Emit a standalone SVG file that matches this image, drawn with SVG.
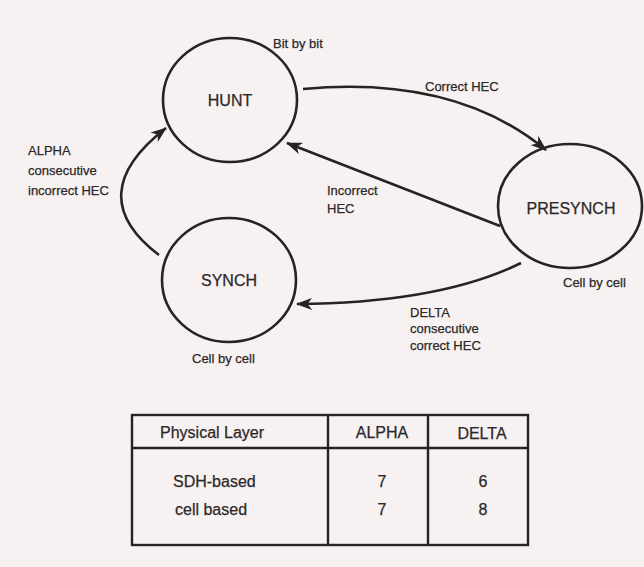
<svg xmlns="http://www.w3.org/2000/svg" width="644" height="567" viewBox="0 0 644 567">
  <style>
    .state { fill: none; stroke: #262324; stroke-width: 2.6; }
    .name { font-family: "Liberation Sans", Arial, sans-serif; font-size: 16px; fill: #2b2829; stroke: #2b2829; stroke-width: 0.25; text-anchor: middle; }
    .lbl { font-family: "Liberation Sans", Arial, sans-serif; font-size: 13px; fill: #2b2829; stroke: #2b2829; stroke-width: 0.25; }
    .edge { fill: none; stroke: #262324; stroke-width: 2.6; marker-end: url(#arrow); }
    .grid { fill: none; stroke: #262324; stroke-width: 2.4; }
    .cell { font-family: "Liberation Sans", Arial, sans-serif; font-size: 16px; fill: #2b2829; stroke: #2b2829; stroke-width: 0.25; }
    .mid { text-anchor: middle; }
  </style>
  <defs>
    <marker id="arrow" viewBox="0 0 16 12" refX="15" refY="6" markerWidth="16" markerHeight="12" markerUnits="userSpaceOnUse" orient="auto">
      <path d="M0,0 L16,6 L0,12 L4.5,6 z" fill="#262324"/>
    </marker>
  </defs>

  <rect width="644" height="567" fill="#f7f2f1"/>

  <!-- transitions -->
  <g id="connectors">
    <path class="edge" d="M303,89 Q455,75 546,150"/>
    <path class="edge" d="M500,226 L287,143"/>
    <path class="edge" d="M521,263 Q440,303 297,304"/>
    <path class="edge" d="M159,255 Q80,195 166,128"/>
    <text class="lbl" x="425" y="91">Correct HEC</text>
    <text class="lbl" x="327" y="195">Incorrect</text>
    <text class="lbl" x="327" y="213">HEC</text>
    <text class="lbl" x="410" y="317">DELTA</text>
    <text class="lbl" x="410" y="333">consecutive</text>
    <text class="lbl" x="410" y="350">correct HEC</text>
    <text class="lbl" x="28" y="155">ALPHA</text>
    <text class="lbl" x="28" y="175">consecutive</text>
    <text class="lbl" x="28" y="195">incorrect HEC</text>
  </g>

  <!-- states -->
  <g id="hunt">
    <ellipse class="state" cx="230" cy="100" rx="67" ry="62"/>
    <text class="name" x="230" y="106">HUNT</text>
    <text class="lbl" x="273" y="48">Bit by bit</text>
  </g>
  <g id="presynch">
    <ellipse class="state" cx="570" cy="206" rx="72" ry="62"/>
    <text class="name" x="571" y="214">PRESYNCH</text>
    <text class="lbl" x="563" y="287">Cell by cell</text>
  </g>
  <g id="synch">
    <ellipse class="state" cx="229" cy="280" rx="67" ry="62"/>
    <text class="name" x="229" y="286">SYNCH</text>
    <text class="lbl" x="192" y="363">Cell by cell</text>
  </g>

  <!-- parameter table -->
  <g id="table">
    <rect class="grid" x="132" y="415" width="396" height="130"/>
    <line class="grid" x1="132" y1="448" x2="528" y2="448"/>
    <line class="grid" x1="328" y1="415" x2="328" y2="545"/>
    <line class="grid" x1="428" y1="415" x2="428" y2="545"/>
    <text class="cell" x="160" y="438">Physical Layer</text>
    <text class="cell mid" x="382" y="438">ALPHA</text>
    <text class="cell mid" x="482" y="439">DELTA</text>
    <text class="cell" x="173" y="487">SDH-based</text>
    <text class="cell" x="175" y="515">cell based</text>
    <text class="cell mid" x="382" y="487">7</text>
    <text class="cell mid" x="382" y="515">7</text>
    <text class="cell mid" x="483" y="487">6</text>
    <text class="cell mid" x="483" y="515">8</text>
  </g>
</svg>
